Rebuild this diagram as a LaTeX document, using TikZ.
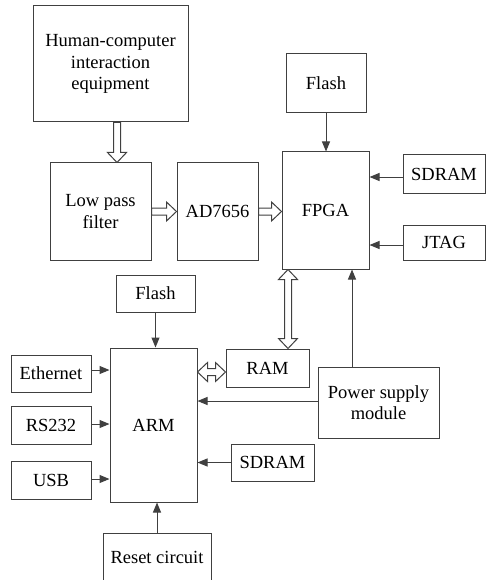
\documentclass[tikz,border=0pt]{standalone}
\usepackage{fontspec}
\newfontfamily\lsf{LiberationSerif-Regular.ttf}
\usetikzlibrary{arrows.meta,calc}
\tikzset{
 box/.style={draw=black!75, line width=1pt, inner sep=0pt, align=center, font=\lsf\fontsize{18.5}{21.5}\selectfont},
 arr/.style={draw=black!75, line width=1pt, -{Triangle[length=10pt,width=8pt]}},
 hollow/.style={draw=black!75, line width=1pt, fill=white, line join=miter},
}
\newcommand\hollowsingle[2]{\draw[hollow] let \p1=#1, \p2=#2, \n1={atan2(\y2-\y1,\x2-\x1)}, \n2={veclen(\x2-\x1,\y2-\y1)} in [shift={(\p1)}, rotate=\n1] (0pt,3.5pt) -- (\n2*1pt-10pt,3.5pt) -- (\n2*1pt-10pt,9.5pt) -- (\n2*1pt,0pt) -- (\n2*1pt-10pt,-9.5pt) -- (\n2*1pt-10pt,-3.5pt) -- (0pt,-3.5pt) -- cycle;}
\newcommand\hollowdouble[2]{\draw[hollow] let \p1=#1, \p2=#2, \n1={atan2(\y2-\y1,\x2-\x1)}, \n2={veclen(\x2-\x1,\y2-\y1)} in [shift={(\p1)}, rotate=\n1] (0pt,0pt) -- (10pt,9.5pt) -- (10pt,3.5pt) -- (\n2*1pt-10pt,3.5pt) -- (\n2*1pt-10pt,9.5pt) -- (\n2*1pt,0pt) -- (\n2*1pt-10pt,-9.5pt) -- (\n2*1pt-10pt,-3.5pt) -- (10pt,-3.5pt) -- (10pt,-9.5pt) -- cycle;}
\begin{document}
\begin{tikzpicture}[x=1pt,y=-1pt]
\clip (0,0) rectangle (486,580);
\node[box, minimum width=155pt, minimum height=116pt] (hci) at (110.5,64) {Human-computer\\interaction\\equipment};
\node[box, minimum width=101pt, minimum height=97pt] (lpf) at (100.5,211.5) {Low pass\\filter};
\node[box, minimum width=81pt, minimum height=97pt] (ad) at (217.5,211.5) {AD7656};
\node[box, minimum width=87pt, minimum height=117pt] (fpga) at (325.5,210.5) {FPGA};
\node[box, minimum width=80pt, minimum height=59pt] (flash1) at (326,83.5) {Flash};
\node[box, minimum width=82pt, minimum height=38pt] (sdram1) at (444,174) {SDRAM};
\node[box, minimum width=82pt, minimum height=35pt] (jtag) at (444,242.5) {JTAG};
\node[box, minimum width=79pt, minimum height=37pt] (flash2) at (155.5,293.5) {Flash};
\node[box, minimum width=87pt, minimum height=154pt] (arm) at (153.5,425) {ARM};
\node[box, minimum width=80pt, minimum height=37pt] (eth) at (51,373.5) {Ethernet};
\node[box, minimum width=80pt, minimum height=38pt] (rs) at (51,425) {RS232};
\node[box, minimum width=80pt, minimum height=38pt] (usb) at (51,480) {USB};
\node[box, minimum width=108pt, minimum height=48pt] (reset) at (157,557) {Reset circuit};
\node[box, minimum width=83pt, minimum height=38pt] (ram) at (267.5,368) {RAM};
\node[box, minimum width=121pt, minimum height=71pt] (power) at (378.5,402.5) {Power supply\\module};
\node[box, minimum width=83pt, minimum height=37pt] (sdram2) at (272.5,462.5) {SDRAM};
% hollow arrows
\coordinate (hl) at ([xshift=6.5pt]hci.south);
\hollowsingle{(hl)}{(hl |- lpf.north)}
\hollowsingle{(lpf.east)}{(ad.west)}
\hollowsingle{(ad.east)}{(ad.east -| fpga.west)}
\coordinate (rf) at ([xshift=20.5pt]ram.north);
\hollowdouble{(rf)}{(rf |- fpga.south)}
\coordinate (ra) at ([yshift=-4pt]ram.west);
\hollowdouble{(ra -| arm.east)}{(ra)}
% thin arrows
\draw[arr] (flash1.south) -- (flash1.south |- fpga.north);
\coordinate (s1) at ([yshift=-3pt]sdram1.west);
\draw[arr] (s1) -- (s1 -| fpga.east);
\coordinate (jt) at ([yshift=-2.5pt]jtag.west);
\draw[arr] (jt) -- (jt -| fpga.east);
\coordinate (pf) at ([xshift=-26.5pt]power.north);
\draw[arr] (pf) -- (pf |- fpga.south);
\coordinate (pa) at ([yshift=1.5pt]power.west);
\draw[arr] (pa) -- (pa -| arm.east);
\draw[arr] (sdram2.west) -- (sdram2.west -| arm.east);
\draw[arr] (flash2.south) -- (flash2.south |- arm.north);
\draw[arr] (reset.north) -- (reset.north |- arm.south);
\coordinate (e1) at ([yshift=3.5pt]eth.east);
\draw[arr] (e1) -- (e1 -| arm.west);
\coordinate (r1) at ([yshift=1pt]rs.east);
\draw[arr] (r1) -- (r1 -| arm.west);
\coordinate (u1) at ([yshift=1pt]usb.east);
\draw[arr] (u1) -- (u1 -| arm.west);
\end{tikzpicture}
\end{document}
